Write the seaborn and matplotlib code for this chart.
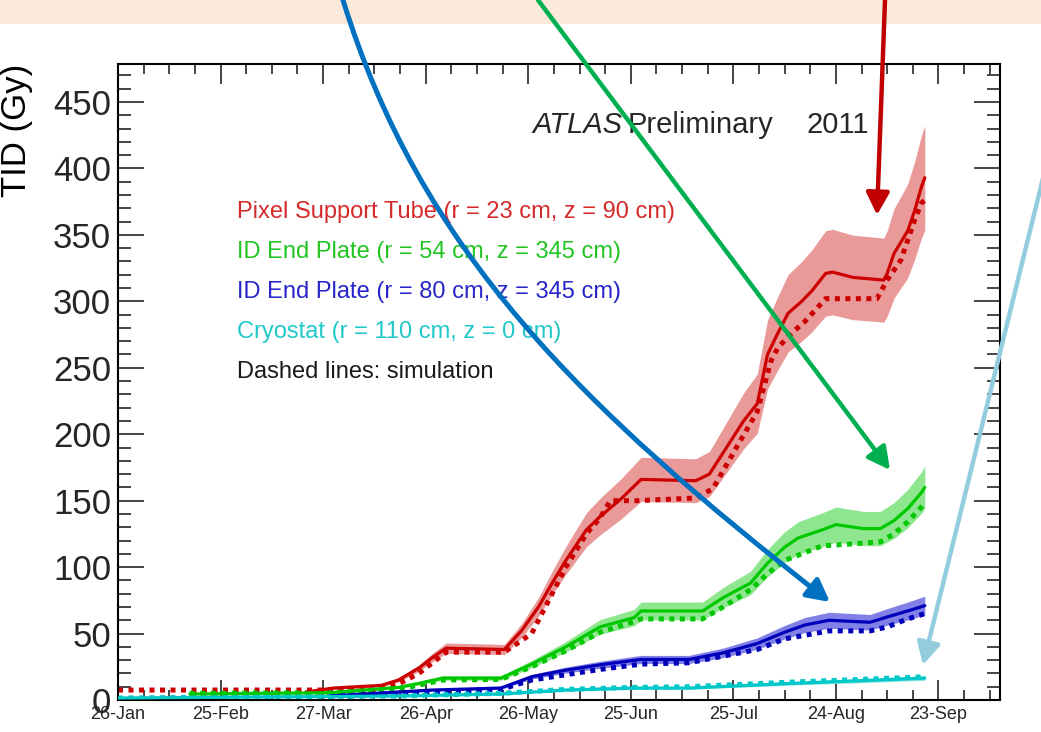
import matplotlib
matplotlib.use("Agg")
import matplotlib.pyplot as plt
from matplotlib.ticker import MultipleLocator, FixedLocator, FixedFormatter
from matplotlib.patches import FancyArrowPatch, Rectangle
from matplotlib.path import Path
import seaborn as sns

# ---- data: days counted from 26 Jan 2011, TID in Gy ----
tick_days = [0, 30, 60, 90, 120, 150, 180, 210, 240]
tick_labels = ["26-Jan", "25-Feb", "27-Mar", "26-Apr", "26-May",
               "25-Jun", "25-Jul", "24-Aug", "23-Sep"]

# Pixel Support Tube
pst_day = [55, 63, 77, 82, 88, 92, 96, 113, 118, 123, 127, 131, 137, 141, 147, 153,
           169, 173, 178, 183, 187, 190, 193, 196, 200, 203, 207, 209, 215, 224, 225,
           227, 231, 233, 235, 236]
pst_tid = [6, 9, 11, 15, 24, 32, 39, 38, 52, 70, 88, 105, 128, 138, 151, 166,
           165, 170, 190, 210, 223, 260, 276, 291, 300, 308, 321, 322, 318, 316, 321,
           336, 353, 368, 386, 393]
pst_sim_day = [0, 75, 82, 88, 96, 113, 121, 127, 131, 137, 141, 144, 152, 169, 174,
               182, 187, 191, 193, 197, 201, 207, 222, 225, 229, 233, 235, 236]
pst_sim_tid = [7.5, 7.5, 12, 20, 36, 36, 50, 80, 100, 125, 137, 150, 150, 152, 159,
               195, 217, 255, 265, 276, 285, 302, 302, 316, 331, 361, 374, 376]

# ID End Plate, r = 54 cm
ep54_day = [21, 62, 82, 88, 95, 112, 121, 131, 141, 151, 153, 171, 177, 185, 190,
            195, 199, 206, 210, 218, 223, 227, 231, 235, 236]
ep54_tid = [4.5, 5.5, 9.5, 12.5, 16.5, 16.5, 27, 40, 55, 62, 67, 67, 77, 88, 103,
            115, 122, 128, 132, 129, 129, 135, 144, 156, 160]
ep54_sim_day = [21, 62, 82, 95, 112, 121, 131, 141, 151, 153, 171, 177, 185, 190,
                195, 206, 218, 223, 227, 231, 236]
ep54_sim_tid = [5, 5.5, 8, 15, 15.5, 25, 37, 51, 59, 61, 61, 70, 83, 95,
                105, 116, 118, 119, 125, 134, 148]

# ID End Plate, r = 80 cm
ep80_day = [62, 82, 92, 112, 121, 131, 141, 153, 167, 177, 187, 195, 201, 208,
            220, 225, 231, 236]
ep80_tid = [3, 6, 7.5, 9, 17.5, 22.5, 26.5, 30.5, 30.5, 35.5, 42.5, 51, 56.5, 60,
            58.5, 62.5, 67, 71]
ep80_sim_day = [62, 82, 112, 121, 141, 153, 167, 187, 195, 208, 220, 225, 231, 236]
ep80_sim_tid = [3, 5, 8, 15, 23, 27, 28, 38, 46, 52, 52, 55, 61, 65]

# Cryostat
cryo_day = [0, 82, 112, 131, 151, 167, 197, 217, 236]
cryo_tid = [1.5, 3, 4.5, 7.5, 9, 9, 12.5, 14.5, 16.5]
cryo_sim_day = [0, 82, 112, 131, 151, 167, 197, 217, 236]
cryo_sim_tid = [1.5, 3, 5, 8, 9.5, 10, 13.5, 15.5, 17.5]

REL_UNC = 0.10  # relative uncertainty of the measurements

series = [
    ("Pixel Support Tube (r = 23 cm, z = 90 cm)", pst_day, pst_tid, pst_sim_day, pst_sim_tid,
     "#cc0000", "#ea9999", "#d42a2a"),
    ("ID End Plate (r = 54 cm, z = 345 cm)", ep54_day, ep54_tid, ep54_sim_day, ep54_sim_tid,
     "#00c800", "#8ee68e", "#22c422"),
    ("ID End Plate (r = 80 cm, z = 345 cm)", ep80_day, ep80_tid, ep80_sim_day, ep80_sim_tid,
     "#0000bb", "#8080e6", "#2626c8"),
    ("Cryostat (r = 110 cm, z = 0 cm)", cryo_day, cryo_tid, cryo_sim_day, cryo_sim_tid,
     "#00c8c8", "#80e2e2", "#22c8c8"),
]

# ---- styling ----
sns.set_theme(style="ticks")
plt.rcParams["font.family"] = ["Liberation Sans", "DejaVu Sans"]
plt.rcParams["axes.linewidth"] = 1.5

W, H = 1041, 732
fig = plt.figure(figsize=(W / 100, H / 100), dpi=100)
fig.patch.set_facecolor("white")
ax = fig.add_axes([118 / W, 32 / H, 882 / W, 636 / H])
ax.set_facecolor("white")

for label, d, v, sd, sv, col, band, txtcol in series:
    lo = [x * (1 - REL_UNC) for x in v]
    hi = [x * (1 + REL_UNC) for x in v]
    ax.fill_between(d, lo, hi, color=band, lw=0, zorder=1)
    sns.lineplot(x=sd, y=sv, ax=ax, color=col, lw=3.6, linestyle=(0, (1, 1.1)),
                 errorbar=None, sort=False, zorder=2)
    sns.lineplot(x=d, y=v, ax=ax, color=col, lw=2.3, errorbar=None, sort=False, zorder=3)

ax.set_xlim(0, 258)
ax.set_ylim(0, 478.6)

ax.xaxis.set_major_locator(FixedLocator(tick_days))
ax.xaxis.set_major_formatter(FixedFormatter(tick_labels))
ax.xaxis.set_minor_locator(MultipleLocator(7.5))
ax.yaxis.set_major_locator(MultipleLocator(50))
ax.yaxis.set_minor_locator(MultipleLocator(10))

ax.xaxis.set_tick_params(which="major", direction="in", length=14.5, width=1.2,
                         top=True, bottom=True, labelsize=13, pad=4)
ax.xaxis.set_tick_params(which="minor", direction="in", length=7.2, width=1.2,
                         top=True, bottom=True)
ax.yaxis.set_tick_params(which="major", direction="in", length=19, width=1.2,
                         left=True, right=True, labelsize=25, pad=5)
ax.yaxis.set_tick_params(which="minor", direction="in", length=9.5, width=1.2,
                         left=True, right=True)
for s in ax.spines.values():
    s.set_color("black")
    s.set_linewidth(1.5)

ax.set_xlabel("")
ax.set_ylabel("TID (Gy)", loc="top", fontsize=25, color="black")
ax.yaxis.set_label_coords(-0.0964, 1.0)

# title block
ax.text((532 - 118) / 882, (700 - 125) / 636, "ATLAS", fontsize=21, fontstyle="italic",
        ha="left", va="center", transform=ax.transAxes)
ax.text((628 - 118) / 882, (700 - 125) / 636, "Preliminary", fontsize=21,
        ha="left", va="center", transform=ax.transAxes)
ax.text((807 - 118) / 882, (700 - 125) / 636, "2011", fontsize=21,
        ha="left", va="center", transform=ax.transAxes)

# series key
key_y = [212, 252, 292, 332]
for (label, *_rest), y in zip(series, key_y):
    ax.text((237 - 118) / 882, (700 - y) / 636, label, color=_rest[-1], fontsize=17,
            ha="left", va="center", transform=ax.transAxes)
ax.text((237 - 118) / 882, (700 - 372) / 636, "Dashed lines: simulation", color="#1a1a1a",
        fontsize=17, ha="left", va="center", transform=ax.transAxes)


# ---- slide header strip and call-out arrows (figure pixel coordinates) ----
def fp(x, y):
    return (x / W, 1 - y / H)


fig.add_artist(Rectangle((0, 1 - 24 / H), 1, 24 / H, transform=fig.transFigure,
                         facecolor="#fde9d9", edgecolor="none", zorder=0))

head = "-|>,head_length=0.42,head_width=0.22"

blue_path = Path([fp(343, 0), fp(420, 250), fp(580, 407), fp(830, 602)],
                 [Path.MOVETO, Path.CURVE4, Path.CURVE4, Path.CURVE4])
fig.add_artist(FancyArrowPatch(path=blue_path, arrowstyle=head, mutation_scale=32,
                               color="#0070c0", lw=3.6, transform=fig.transFigure,
                               zorder=10))
for (a, b, c, lw) in [((538, 0), (890, 470), "#00b050", 3.2),
                      ((885, 0), (877, 215), "#c00000", 3.2),
                      ((1045, 170), (923, 665), "#93cddd", 3.2)]:
    fig.add_artist(FancyArrowPatch(fp(*a), fp(*b), arrowstyle=head, mutation_scale=32,
                                   color=c, lw=lw, transform=fig.transFigure,
                                   shrinkA=0, shrinkB=0, zorder=10))

fig.savefig("out.png", dpi=100)
